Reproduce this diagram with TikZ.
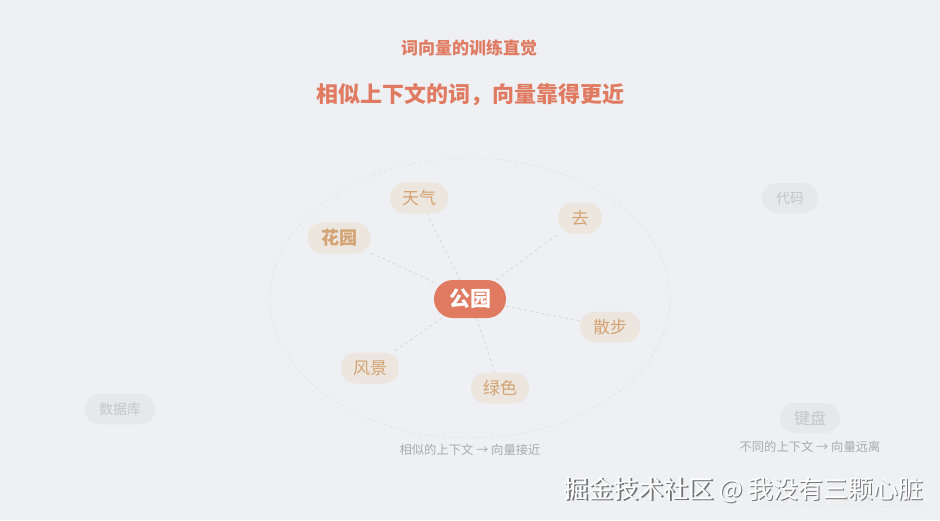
\documentclass[tikz,border=0pt]{standalone}
\usepackage{fontspec}
\setmainfont{Noto Sans CJK SC}
\definecolor{bgc}{HTML}{EEF0F4}
\definecolor{accent}{HTML}{E07B62}
\definecolor{tan}{HTML}{D4A373}
\definecolor{satfill}{HTML}{ECE6DF}
\definecolor{farfill}{HTML}{E7E8EB}
\definecolor{fartext}{HTML}{C6C6C8}
\definecolor{linec}{HTML}{D9D9DC}
\definecolor{captc}{HTML}{AAAAAE}
\tikzset{
  x=1pt,y=-1pt,
  sat/.style={rounded corners=15pt, fill=satfill, text=tan, font=\fontsize{17}{17}\selectfont, minimum height=31pt, minimum width=58pt, inner xsep=6pt},
  far/.style={rounded corners=15pt, fill=farfill, text=fartext, font=\fontsize{14}{14}\selectfont, minimum height=30pt, inner xsep=14pt},
  core/.style={rounded corners=19pt, fill=accent, text=white, font=\fontsize{21}{21}\selectfont\bfseries, minimum height=38pt, minimum width=72pt},
  link/.style={draw=linec, dashed, line width=0.9pt},
  capt/.style={text=captc, font=\fontsize{12.3}{12.3}\selectfont}
}
\begin{document}
\begin{tikzpicture}
\fill[bgc] (0,0) rectangle (940,520);
\useasboundingbox (0,0) rectangle (940,520);
\node[text=accent, font=\fontsize{17}{17}\selectfont\bfseries] (title) at (469,48) {词向量的训练直觉};
\node[text=accent, font=\fontsize{22}{22}\selectfont\bfseries] (sub) at (470,95) {相似上下文的词，向量靠得更近};
\draw[draw=linec!70, dashed, line width=0.8pt] (470,298) ellipse [x radius=200, y radius=140];
\node[core] (c) at (470,299) {公园};
\node[sat] (tq) at (419,198) {天气};
\node[sat, minimum width=44pt] (qu) at (580,218) {去};
\node[sat, font=\fontsize{18}{18}\selectfont\bfseries, minimum width=63pt] (hy) at (339,238) {花园};
\node[sat, minimum width=60pt] (sb) at (610,327) {散步};
\node[sat] (fj) at (370,368) {风景};
\node[sat] (ls) at (500,388) {绿色};
\foreach \n in {tq,qu,hy,sb,fj,ls} \draw[link] (c) -- (\n);
\node[far] (dm) at (790,198) {代码};
\node[far] (sjk) at (120,409) {数据库};
\node[far, font=\fontsize{16}{16}\selectfont] (jp) at (810,418) {键盘};
\node[capt] (cap1) at (470,450) {相似的上下文 → 向量接近};
\node[capt] (cap2) at (810,447) {不同的上下文 → 向量远离};
\node[text=black!8, font=\fontsize{12}{12}\selectfont] (wm2) at (840,503) {AI是怎么回事 @我没有三颗心脏};
\node[text=black!55, font=\fontsize{25}{25}\selectfont] (wmsh) at (745,491.5) {掘金技术社区 @ 我没有三颗心脏};
\node[text=white, font=\fontsize{25}{25}\selectfont] (wm) at (743.5,490) {掘金技术社区 @ 我没有三颗心脏};
\end{tikzpicture}
\end{document}
